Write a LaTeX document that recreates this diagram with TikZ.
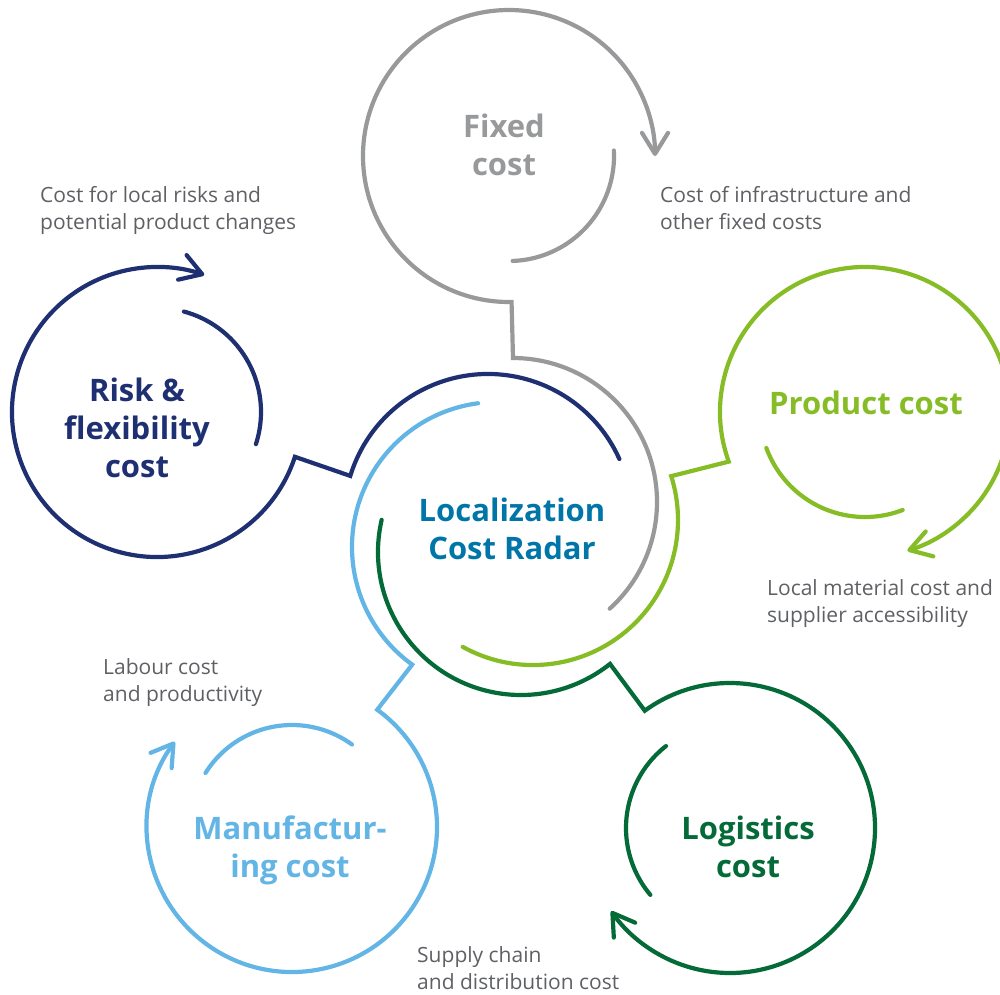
\documentclass[tikz,border=0pt]{standalone}
\usepackage{fontspec}
\setmainfont{Open Sans}
\usetikzlibrary{arrows.meta,calc}
\definecolor{cgrey}{HTML}{97999B}
\definecolor{cnavy}{HTML}{1E2F72}
\definecolor{cgreen}{HTML}{86BC25}
\definecolor{cdgreen}{HTML}{046A38}
\definecolor{clblue}{HTML}{62B5E5}
\definecolor{cblue}{HTML}{0076A8}
\definecolor{ctext}{HTML}{5E6064}
\begin{document}
\begin{tikzpicture}[x=1pt,y=1pt,
  ring/.style={line width=4.2pt, line cap=round, line join=miter},
  arrowring/.style={ring, -{Straight Barb[length=21pt,width=26pt,round]}},
  lbl/.style={font=\fontsize{31}{38}\selectfont\bfseries, align=center, inner sep=0pt},
  note/.style={font=\fontsize{21}{27}\selectfont, text=ctext, align=left, anchor=north west, inner sep=0pt}]
\clip (0,0) rectangle (1000,-994);
% centres of the outer circles
\coordinate (go) at (509,-156);
\coordinate (no) at (157,-412);
\coordinate (po) at (865,-412);
\coordinate (lo) at (730,-828);
\coordinate (mo) at (292,-827);
% centres of the inner arcs around the radar
\coordinate (gi) at (513,-502);
\coordinate (ni) at (488,-518);
\coordinate (pi) at (533,-520);
\coordinate (li) at (521,-552);
\coordinate (mi) at (497,-547);

% Fixed cost (grey)
\draw[arrowring, cgrey] ($(gi)+(-47.8:144)$) arc[start angle=-47.8, end angle=90, radius=144]
  -- ($(go)+(-89:146)$) arc[start angle=-89, end angle=-360, radius=146];
\draw[ring, cgrey] ($(go)+(3:105)$) arc[start angle=3, end angle=-88, radius=105];

% Risk & flexibility cost (navy)
\draw[arrowring, cnavy] ($(ni)+(24.2:144)$) arc[start angle=24.2, end angle=163, radius=144]
  -- ($(no)+(-18:145)$) arc[start angle=-18, end angle=-289, radius=145];
\draw[ring, cnavy] ($(no)+(75:104)$) arc[start angle=75, end angle=-18, radius=104];

% Product cost (green)
\draw[arrowring, cgreen] ($(pi)+(-119:145)$) arc[start angle=-119, end angle=17.6, radius=145]
  -- ($(po)+(200:145)$) arc[start angle=200, end angle=-73, radius=145];
\draw[ring, cgreen] ($(po)+(200:105)$) arc[start angle=200, end angle=291, radius=105];

% Logistics cost (dark green)
\draw[arrowring, cdgreen] ($(li)+(167:143)$) arc[start angle=167, end angle=308.5, radius=143]
  -- ($(lo)+(126:145)$) arc[start angle=126, end angle=-145, radius=145];
\draw[ring, cdgreen] ($(lo)+(128:104)$) arc[start angle=128, end angle=220, radius=104];

% Manufacturing cost (light blue)
\draw[arrowring, clblue] ($(mi)+(97.5:145)$) arc[start angle=97.5, end angle=234.2, radius=145]
  -- ($(mo)+(54:145)$) arc[start angle=54, end angle=-216, radius=145];
\draw[ring, clblue] ($(mo)+(148:102)$) arc[start angle=148, end angle=54, radius=102];

% labels
\node[lbl, text=cgrey] (fixed) at (504,-145) {Fixed\\cost};
\node[lbl, text=cnavy] (risk) at (137,-428) {Risk \&\\flexibility\\cost};
\node[lbl, text=cgreen] (product) at (866,-403) {Product cost};
\node[lbl, text=cblue] (radar) at (512,-529) {Localization\\Cost Radar};
\node[lbl, text=cdgreen] (logistics) at (748,-847) {Logistics\\cost};
\node[lbl, text=clblue] (manu) at (290,-850) {Manufactur-\\ing cost};

% notes
\node[note] (nrisk) at (40,-186.5) {Cost for local risks and\\potential product changes};
\node[note] (nfixed) at (660,-186.5) {Cost of infrastructure and\\other fixed costs};
\node[note] (nproduct) at (767,-579.5) {Local material cost and\\supplier accessibility};
\node[note] (nmanu) at (103,-658) {Labour cost\\and productivity};
\node[note] (nlog) at (417,-946) {Supply chain\\and distribution cost};
\end{tikzpicture}
\end{document}
